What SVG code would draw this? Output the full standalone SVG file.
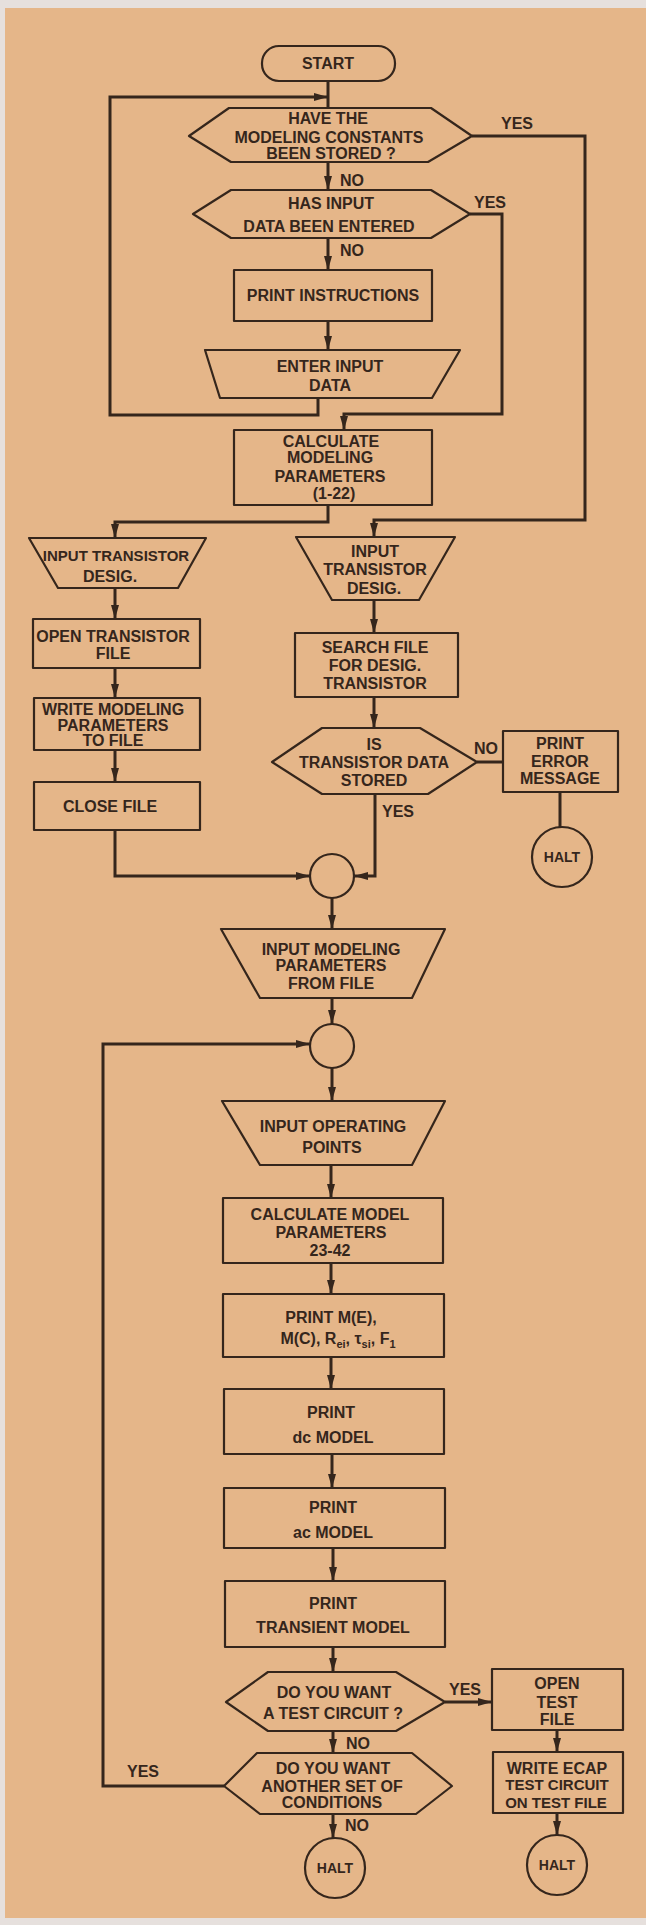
<svg xmlns="http://www.w3.org/2000/svg" width="646" height="1925" viewBox="0 0 646 1925">
<style>
.s{fill:none;stroke:#35261c;stroke-width:2.2;stroke-linejoin:round}
.c{fill:none;stroke:#35261c;stroke-width:3;stroke-linejoin:miter}
.t{font-family:"Liberation Sans",Arial,sans-serif;font-weight:bold;font-size:16px;fill:#35261c;text-anchor:middle}
.l{font-family:"Liberation Sans",Arial,sans-serif;font-weight:bold;font-size:16px;fill:#35261c}
.sm{font-size:15px}
</style>
<defs>
<marker id="a" markerUnits="userSpaceOnUse" markerWidth="16" markerHeight="10" refX="14" refY="5" orient="auto">
<path d="M0,1 L14,5 L0,9 Z" fill="#35261c"/>
</marker>
</defs>
<rect x="0" y="0" width="646" height="1925" fill="#E6E0DD"/>
<rect x="5" y="8" width="641" height="1910" fill="#E5B689"/>
<g id="connectors">
<path class="c" d="M328,81 V108"/>
<path class="c" d="M318,398 V415 H110 V97 H328" marker-end="url(#a)"/>
<path class="c" d="M328,162 V190" marker-end="url(#a)"/>
<path class="c" d="M328,238 V270" marker-end="url(#a)"/>
<path class="c" d="M328,321 V350" marker-end="url(#a)"/>
<path class="c" d="M472,136 H585 V520 H374 V537" marker-end="url(#a)"/>
<path class="c" d="M470,214 H502 V414 H344 V430" marker-end="url(#a)"/>
<path class="c" d="M328,505 V522 H115 V538" marker-end="url(#a)"/>
<path class="c" d="M115,588 V619" marker-end="url(#a)"/>
<path class="c" d="M115,668 V698" marker-end="url(#a)"/>
<path class="c" d="M115,750 V782" marker-end="url(#a)"/>
<path class="c" d="M115,830 V876 H310" marker-end="url(#a)"/>
<path class="c" d="M374,600 V633" marker-end="url(#a)"/>
<path class="c" d="M374,697 V728" marker-end="url(#a)"/>
<path class="c" d="M477,762 H503"/>
<path class="c" d="M560,792 V827"/>
<path class="c" d="M375,794 V876 H354" marker-end="url(#a)"/>
<path class="c" d="M332,898 V929" marker-end="url(#a)"/>
<path class="c" d="M332,998 V1024" marker-end="url(#a)"/>
<path class="c" d="M332,1068 V1101" marker-end="url(#a)"/>
<path class="c" d="M331,1165 V1198" marker-end="url(#a)"/>
<path class="c" d="M331,1263 V1294" marker-end="url(#a)"/>
<path class="c" d="M331,1357 V1389" marker-end="url(#a)"/>
<path class="c" d="M332,1454 V1488" marker-end="url(#a)"/>
<path class="c" d="M333,1548 V1581" marker-end="url(#a)"/>
<path class="c" d="M333,1647 V1672" marker-end="url(#a)"/>
<path class="c" d="M445,1702 H492" marker-end="url(#a)"/>
<path class="c" d="M557,1730 V1752" marker-end="url(#a)"/>
<path class="c" d="M557,1813 V1835" marker-end="url(#a)"/>
<path class="c" d="M333,1731 V1753" marker-end="url(#a)"/>
<path class="c" d="M224,1786 H103 V1044 H310" marker-end="url(#a)"/>
<path class="c" d="M333,1814 V1838" marker-end="url(#a)"/>
</g>
<g id="labels">
<text class="l" x="517" y="129" text-anchor="middle">YES</text>
<text class="l" x="340" y="186">NO</text>
<text class="l" x="490" y="208" text-anchor="middle">YES</text>
<text class="l" x="340" y="256">NO</text>
<text class="l" x="486" y="754" text-anchor="middle">NO</text>
<text class="l" x="398" y="817" text-anchor="middle">YES</text>
<text class="l" x="465" y="1695" text-anchor="middle">YES</text>
<text class="l" x="346" y="1749">NO</text>
<text class="l" x="143" y="1777" text-anchor="middle">YES</text>
<text class="l" x="345" y="1831">NO</text>
</g>
<g id="start"><rect class="s" x="262" y="46" width="133" height="35" rx="17"/><text class="t" x="328" y="69">START</text></g>
<g id="hex1"><polygon class="s" points="189,136 229,108 431,108 472,136 428,162 231,162"/>
<text class="t" x="328" y="124">HAVE THE</text><text class="t" x="329" y="143">MODELING CONSTANTS</text><text class="t" x="331" y="159">BEEN STORED ?</text></g>
<g id="hex2"><polygon class="s" points="193,214 231,190 431,190 470,214 431,238 231,238"/>
<text class="t" x="331" y="209">HAS INPUT</text><text class="t" x="329" y="232">DATA BEEN ENTERED</text></g>
<g id="printinstr"><rect class="s" x="234" y="270" width="198" height="51"/><text class="t" x="333" y="301">PRINT INSTRUCTIONS</text></g>
<g id="enterinput"><polygon class="s" points="205,350 460,350 432,398 220,398"/>
<text class="t" x="330" y="372">ENTER INPUT</text><text class="t" x="330" y="391">DATA</text></g>
<g id="calc1"><rect class="s" x="234" y="430" width="198" height="75"/>
<text class="t" x="331" y="447">CALCULATE</text><text class="t" x="330" y="463">MODELING</text><text class="t" x="330" y="482">PARAMETERS</text><text class="t" x="334" y="499">(1-22)</text></g>
<g id="inputdesigL"><polygon class="s" points="29,538 206,538 178,588 58,588"/>
<text class="t sm" x="116" y="561">INPUT TRANSISTOR</text><text class="t" x="110" y="582">DESIG.</text></g>
<g id="inputdesigR"><polygon class="s" points="296,537 455,537 419,600 332,600"/>
<text class="t" x="375" y="557">INPUT</text><text class="t" x="375" y="575">TRANSISTOR</text><text class="t" x="374" y="594">DESIG.</text></g>
<g id="openfile"><rect class="s" x="33" y="619" width="167" height="49"/>
<text class="t" x="113" y="642">OPEN TRANSISTOR</text><text class="t" x="113" y="659">FILE</text></g>
<g id="writefile"><rect class="s" x="34" y="698" width="166" height="52"/>
<text class="t" x="113" y="715">WRITE MODELING</text><text class="t" x="113" y="731">PARAMETERS</text><text class="t" x="113" y="746">TO FILE</text></g>
<g id="closefile"><rect class="s" x="34" y="782" width="166" height="48"/><text class="t" x="110" y="812">CLOSE FILE</text></g>
<g id="search"><rect class="s" x="295" y="633" width="163" height="64"/>
<text class="t" x="375" y="653">SEARCH FILE</text><text class="t" x="375" y="671">FOR DESIG.</text><text class="t" x="375" y="689">TRANSISTOR</text></g>
<g id="hex3"><polygon class="s" points="272,762 322,728 420,728 477,762 428,794 322,794"/>
<text class="t" x="374" y="750">IS</text><text class="t" x="374" y="768">TRANSISTOR DATA</text><text class="t" x="374" y="786">STORED</text></g>
<g id="printerror"><rect class="s" x="503" y="731" width="115" height="61"/>
<text class="t" x="560" y="749">PRINT</text><text class="t" x="560" y="767">ERROR</text><text class="t" x="560" y="784">MESSAGE</text></g>
<g id="halt1"><ellipse class="s" cx="562" cy="857" rx="30" ry="30"/><text class="t" x="562" y="862" style="font-size:14px">HALT</text></g>
<g id="junction1"><circle class="s" cx="332" cy="876" r="22"/></g>
<g id="inputparams"><polygon class="s" points="221,929 445,929 412,998 260,998"/>
<text class="t" x="331" y="955">INPUT MODELING</text><text class="t" x="331" y="971">PARAMETERS</text><text class="t" x="331" y="989">FROM FILE</text></g>
<g id="junction2"><circle class="s" cx="332" cy="1046" r="22"/></g>
<g id="inputop"><polygon class="s" points="222,1101 445,1101 412,1165 260,1165"/>
<text class="t" x="333" y="1132">INPUT OPERATING</text><text class="t" x="332" y="1153">POINTS</text></g>
<g id="calc2"><rect class="s" x="223" y="1198" width="220" height="65"/>
<text class="t" x="330" y="1220">CALCULATE MODEL</text><text class="t" x="331" y="1238">PARAMETERS</text><text class="t" x="330" y="1256">23-42</text></g>
<g id="printme"><rect class="s" x="223" y="1294" width="221" height="63"/>
<text class="t" x="331" y="1323">PRINT M(E),</text>
<text class="t" x="338" y="1344">M(C), R<tspan font-size="11" dy="4">ei</tspan><tspan dy="-4">, τ</tspan><tspan font-size="11" dy="4">si</tspan><tspan dy="-4">, F</tspan><tspan font-size="11" dy="4">1</tspan></text></g>
<g id="printdc"><rect class="s" x="224" y="1389" width="220" height="65"/>
<text class="t" x="331" y="1418">PRINT</text><text class="t" x="333" y="1443">dc MODEL</text></g>
<g id="printac"><rect class="s" x="224" y="1488" width="221" height="60"/>
<text class="t" x="333" y="1513">PRINT</text><text class="t" x="333" y="1538">ac MODEL</text></g>
<g id="printtransient"><rect class="s" x="225" y="1581" width="220" height="66"/>
<text class="t" x="333" y="1609">PRINT</text><text class="t" x="333" y="1633">TRANSIENT MODEL</text></g>
<g id="hex4"><polygon class="s" points="226,1702 268,1672 396,1672 445,1702 396,1731 268,1731"/>
<text class="t" x="334" y="1698">DO YOU WANT</text><text class="t" x="333" y="1719">A TEST CIRCUIT ?</text></g>
<g id="opentest"><rect class="s" x="492" y="1669" width="131" height="61"/>
<text class="t" x="557" y="1689">OPEN</text><text class="t" x="557" y="1708">TEST</text><text class="t" x="557" y="1725">FILE</text></g>
<g id="writeecap"><rect class="s" x="493" y="1752" width="130" height="61"/>
<text class="t" x="557" y="1774">WRITE ECAP</text><text class="t sm" x="557" y="1790">TEST CIRCUIT</text><text class="t sm" x="556" y="1808">ON TEST FILE</text></g>
<g id="halt2"><ellipse class="s" cx="557" cy="1865" rx="30" ry="30"/><text class="t" x="557" y="1870" style="font-size:14px">HALT</text></g>
<g id="hex5"><polygon class="s" points="224,1786 257,1753 412,1753 452,1786 416,1814 260,1814"/>
<text class="t" x="333" y="1774">DO YOU WANT</text><text class="t" x="332" y="1792">ANOTHER SET OF</text><text class="t" x="332" y="1808">CONDITIONS</text></g>
<g id="halt3"><ellipse class="s" cx="335" cy="1868" rx="30" ry="30"/><text class="t" x="335" y="1873" style="font-size:14px">HALT</text></g>
</svg>
